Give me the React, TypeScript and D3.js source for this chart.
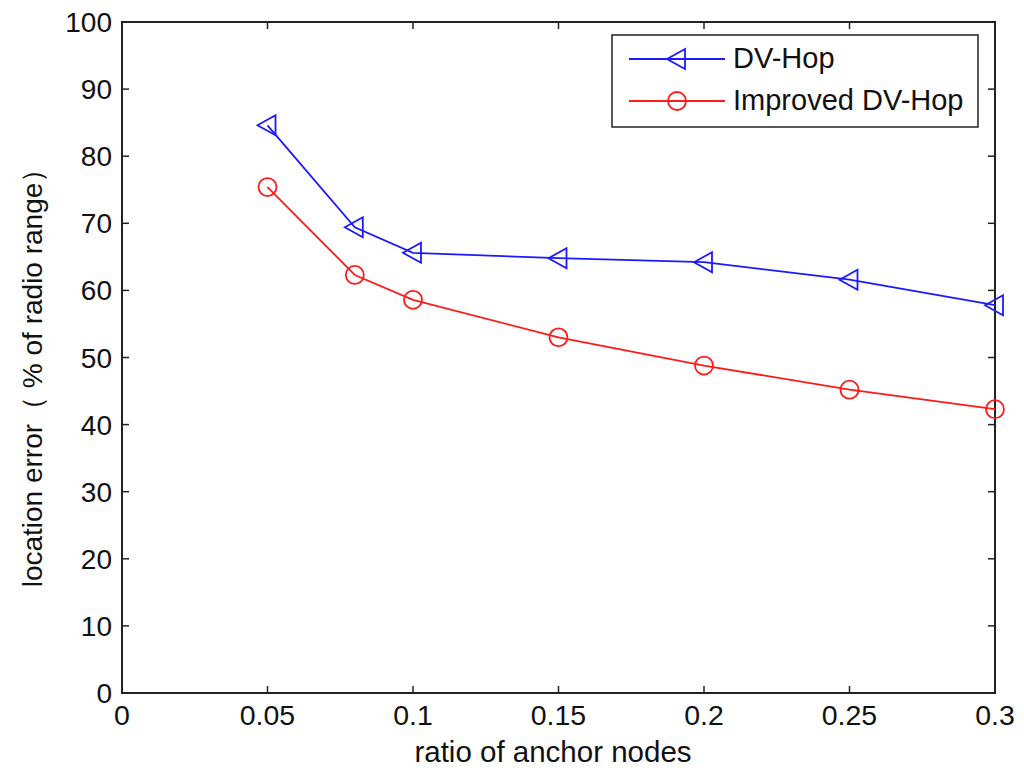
import React from "react";
import * as d3 from "d3";

const xValues = [0.05, 0.08, 0.1, 0.15, 0.2, 0.25, 0.3];
const dvHop = [84.6, 69.4, 65.6, 64.8, 64.2, 61.6, 57.8];
const improvedDvHop = [75.4, 62.3, 58.6, 53.0, 48.8, 45.2, 42.3];
const xTicks = [0, 0.05, 0.1, 0.15, 0.2, 0.25, 0.3];
const yTicks = [0, 10, 20, 30, 40, 50, 60, 70, 80, 90, 100];
const seriesNames = ["DV-Hop", "Improved DV-Hop"];

const W = 1024, H = 774;
const m = { left: 122, right: 995, top: 22, bottom: 693 };

export default function App() {
  const x = d3.scaleLinear().domain([0, 0.3]).range([m.left, m.right]);
  const y = d3.scaleLinear().domain([0, 100]).range([m.bottom, m.top]);
  const line = d3.line<number>().x((_, i) => x(xValues[i])).y((d) => y(d));
  const font = "'Liberation Sans', Arial, sans-serif";
  const tri = (cx: number, cy: number) =>
    `M${cx - 10},${cy} L${cx + 8},${cy - 10} L${cx + 8},${cy + 10} Z`;
  const tl = 7;
  return (
    <svg width={W} height={H} style={{ position: "absolute", left: 0, top: 0, background: "#fff" }}>
      <rect x={0} y={0} width={W} height={H} fill="#fff" />
      {xTicks.map((t) => (
        <g key={"x" + t}>
          <line x1={x(t)} x2={x(t)} y1={m.bottom} y2={m.bottom - tl} stroke="#222" strokeWidth={1.5} />
          <line x1={x(t)} x2={x(t)} y1={m.top} y2={m.top + tl} stroke="#222" strokeWidth={1.5} />
          <text x={x(t)} y={m.bottom + 32} textAnchor="middle" fontSize={28.5} fontFamily={font} fill="#111">
            {String(t)}
          </text>
        </g>
      ))}
      {yTicks.map((t) => (
        <g key={"y" + t}>
          <line x1={m.left} x2={m.left + tl} y1={y(t)} y2={y(t)} stroke="#222" strokeWidth={1.5} />
          <line x1={m.right} x2={m.right - tl} y1={y(t)} y2={y(t)} stroke="#222" strokeWidth={1.5} />
          <text x={m.left - 10} y={y(t) + 10} textAnchor="end" fontSize={28} fontFamily={font} fill="#111">
            {String(t)}
          </text>
        </g>
      ))}
      <rect x={m.left} y={m.top} width={m.right - m.left} height={m.bottom - m.top} fill="none" stroke="#222" strokeWidth={2} />
      <path d={line(dvHop) || ""} fill="none" stroke="#1a1aff" strokeWidth={1.8} />
      {dvHop.map((v, i) => (
        <path key={"t" + i} d={tri(x(xValues[i]), y(v))} fill="none" stroke="#1a1aff" strokeWidth={1.8} />
      ))}
      <path d={line(improvedDvHop) || ""} fill="none" stroke="#ff1a1a" strokeWidth={1.8} />
      {improvedDvHop.map((v, i) => (
        <circle key={"c" + i} cx={x(xValues[i])} cy={y(v)} r={9} fill="none" stroke="#ff1a1a" strokeWidth={1.8} />
      ))}
      <rect x={612} y={35} width={366} height={92} fill="#fff" stroke="#222" strokeWidth={1.5} />
      <line x1={629} x2={725} y1={59} y2={59} stroke="#1a1aff" strokeWidth={1.8} />
      <path d={tri(677, 59)} fill="none" stroke="#1a1aff" strokeWidth={1.8} />
      <text x={733} y={68} fontSize={29} fontFamily={font} fill="#111">{seriesNames[0]}</text>
      <line x1={629} x2={725} y1={101} y2={101} stroke="#ff1a1a" strokeWidth={1.8} />
      <circle cx={677} cy={101} r={9} fill="none" stroke="#ff1a1a" strokeWidth={1.8} />
      <text x={733} y={110} fontSize={29} fontFamily={font} fill="#111">{seriesNames[1]}</text>
      <text x={553} y={762} textAnchor="middle" fontSize={29.5} fontFamily={font} fill="#111">
        ratio of anchor nodes
      </text>
      <text
        transform={`translate(42, 371) rotate(-90)`}
        textAnchor="middle"
        fontSize={28}
        fontFamily={font}
        fill="#111"
      >
        location error（ % of radio range）
      </text>
    </svg>
  );
}
